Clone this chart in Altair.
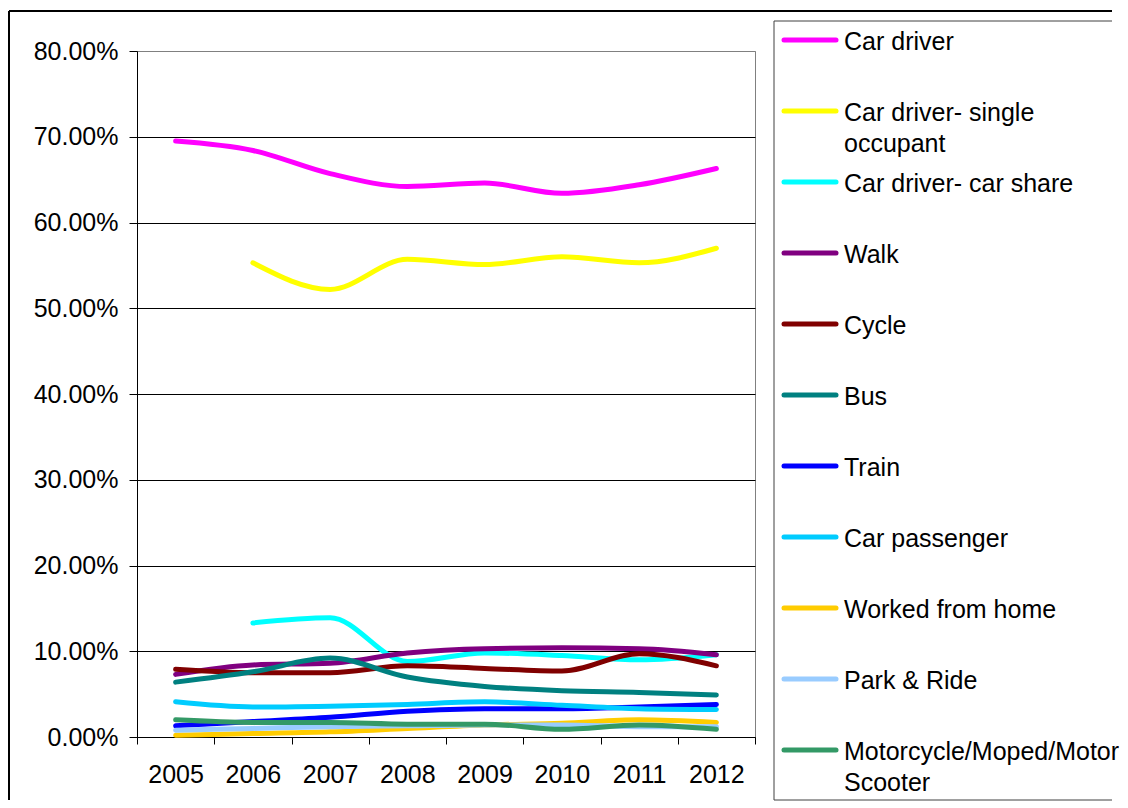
import altair as alt
import pandas as pd

years = ["2005", "2006", "2007", "2008", "2009", "2010", "2011", "2012"]

series = [
    "Car driver",
    "Car driver- single occupant",
    "Car driver- car share",
    "Walk",
    "Cycle",
    "Bus",
    "Train",
    "Car passenger",
    "Worked from home",
    "Park & Ride",
    "Motorcycle/Moped/Motor Scooter",
]
legend_line1 = ["Car driver", "Car driver- single", "Car driver- car share", "Walk", "Cycle",
                "Bus", "Train", "Car passenger", "Worked from home", "Park & Ride",
                "Motorcycle/Moped/Motor"]
legend_line2 = ["", "occupant", "", "", "", "", "", "", "", "", "Scooter"]

colors = ["#FF00FF", "#FFFF00", "#00FFFF", "#800080", "#800000", "#008080",
          "#0000FF", "#00CCFF", "#FFCC00", "#99CCFF", "#339966"]

# values in percent (None = no data)
car_driver = [69.5, 68.4, 65.7, 64.2, 64.6, 63.4, 64.4, 66.3]
single_occupant = [None, 55.3, 52.2, 55.7, 55.1, 56.0, 55.3, 57.0]
car_share = [None, 13.3, 13.9, 8.8, 9.8, 9.5, 9.0, 9.6]
walk = [7.3, 8.4, 8.6, 9.8, 10.3, 10.4, 10.3, 9.6]
cycle = [7.9, 7.5, 7.5, 8.3, 8.0, 7.7, 9.7, 8.3]
bus = [6.4, 7.6, 9.2, 7.0, 5.9, 5.4, 5.2, 4.9]
train = [1.3, 1.8, 2.3, 3.0, 3.3, 3.3, 3.5, 3.8]
car_passenger = [4.1, 3.5, 3.6, 3.8, 4.1, 3.7, 3.3, 3.2]
worked_from_home = [0.2, 0.4, 0.6, 1.0, 1.4, 1.6, 2.0, 1.7]
park_ride = [0.8, 1.0, 1.2, 1.3, 1.4, 1.4, 1.2, 1.2]
motorcycle = [2.0, 1.7, 1.7, 1.5, 1.5, 0.9, 1.4, 0.9]

y_ticks = [0, 0.1, 0.2, 0.3, 0.4, 0.5, 0.6, 0.7, 0.8]

all_values = [car_driver, single_occupant, car_share, walk, cycle, bus, train,
              car_passenger, worked_from_home, park_ride, motorcycle]

rows = []
for s, vals in zip(series, all_values):
    for yr, v in zip(years, vals):
        if v is not None:
            rows.append({"series": s, "year": yr, "share": v / 100.0})
df = pd.DataFrame(rows)

leg = pd.DataFrame({"series": series, "idx": list(range(len(series))),
                    "line1": legend_line1, "line2": legend_line2})
one = pd.DataFrame({"k": [0]})

FONT = "Liberation Sans"
color_enc = alt.Color("series:N", scale=alt.Scale(domain=series, range=colors), legend=None)

lines = alt.Chart(df).mark_line(strokeWidth=5, interpolate="monotone", strokeCap="round",
                                strokeJoin="round").encode(
    x=alt.X("year:O", scale=alt.Scale(type="band", paddingInner=0, paddingOuter=0),
            bandPosition=0.5,
            axis=alt.Axis(title=None, tickBand="extent", labelAngle=0, tickSize=7,
                          labelPadding=18, grid=False, domainColor="black",
                          tickColor="black")),
    y=alt.Y("share:Q", scale=alt.Scale(domain=[0, 0.8], nice=False),
            axis=alt.Axis(title=None, format=".2%", values=y_ticks, tickSize=8,
                          labelPadding=11, domainColor="black", tickColor="black",
                          gridColor={"condition": {"test": "datum.value >= 0.79", "value": "#808080"},
                                     "value": "black"},
                          gridWidth=1)),
    color=color_enc,
)

ly = alt.Y("idx:Q", scale=alt.Scale(domain=[0, 10], range=[-11, 699]), axis=None)

swatch = alt.Chart(leg).mark_rule(strokeWidth=5, strokeCap="round").encode(
    y=ly, x=alt.value(647), x2=alt.value(699), color=color_enc)
text1 = alt.Chart(leg).mark_text(align="left", baseline="middle", dy=2, font=FONT,
                                 fontSize=25, color="black").encode(
    y=ly, x=alt.value(707), text="line1:N")
text2 = alt.Chart(leg).mark_text(align="left", baseline="middle", dy=33, font=FONT,
                                 fontSize=25, color="black").encode(
    y=ly, x=alt.value(707), text="line2:N")

outer_top = alt.Chart(one).mark_rule(color="black", strokeWidth=2).encode(
    x=alt.value(-128), x2=alt.value(975), y=alt.value(-40))
outer_left = alt.Chart(one).mark_rule(color="black", strokeWidth=2).encode(
    x=alt.value(-128), y=alt.value(-40), y2=alt.value(749))
box_top = alt.Chart(one).mark_rule(color="#404040", strokeWidth=1).encode(
    x=alt.value(637), x2=alt.value(975), y=alt.value(-30))
box_left = alt.Chart(one).mark_rule(color="#404040", strokeWidth=1).encode(
    x=alt.value(637), y=alt.value(-30), y2=alt.value(749))
box_bottom = alt.Chart(one).mark_rule(color="#404040", strokeWidth=1).encode(
    x=alt.value(637), x2=alt.value(975), y=alt.value(749))

chart = alt.layer(
    outer_top, outer_left, box_top, box_left, box_bottom,
    lines, swatch, text1, text2,
).resolve_scale(y="independent").properties(
    width=618, height=686,
    padding={"left": 0, "top": 2, "right": 0, "bottom": 0},
    background="white",
).configure_view(
    stroke="#808080", strokeWidth=1
).configure_axis(
    labelFont=FONT, labelFontSize=25, labelColor="black",
)

chart.save("out.html", embed_options={"renderer": "svg", "actions": False})
